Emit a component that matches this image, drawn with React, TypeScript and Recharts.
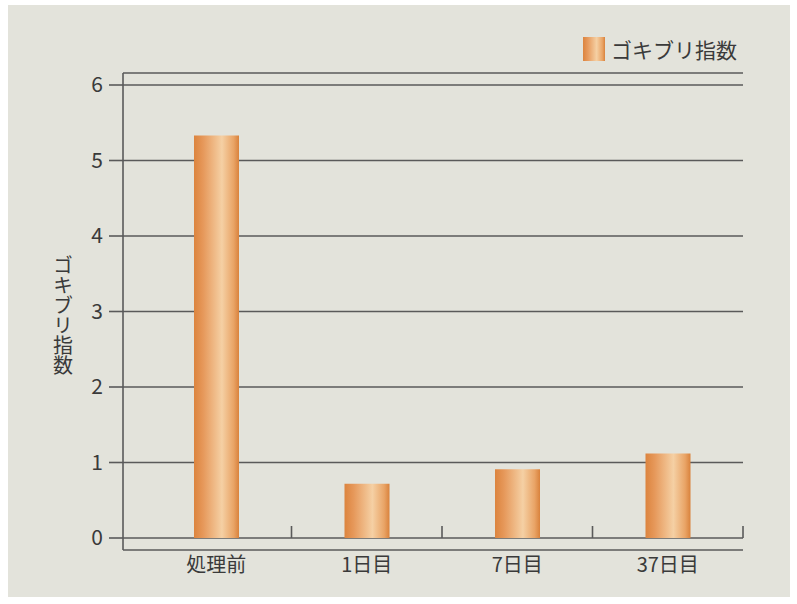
import { BarChart, Bar, XAxis, YAxis, CartesianGrid, Legend } from 'recharts';

// ゴキブリ指数 by timing
const categories = ['処理前', '1日目', '7日目', '37日目'];
const indexValues = [5.33, 0.72, 0.91, 1.12];
const yTicks = [0, 1, 2, 3, 4, 5, 6];
const seriesName = 'ゴキブリ指数';

const FONT = '"Noto Sans CJK JP", "Noto Sans", sans-serif';
const INK = '#3a3a3a';
const LINE = '#5a5a5a';

const W = 797;
const H = 604;
const MARGIN = { top: 73, right: 54, bottom: 24, left: 0 };
const Y_AXIS_W = 123;
const PAD_LEFT = 18;
const X_TICK_MARGIN = 8;
const Y_PAD = 12;
const bandWidth = (W - MARGIN.left - MARGIN.right - Y_AXIS_W - PAD_LEFT) / categories.length;

const data = categories.map((name, i) => ({ name, value: indexValues[i] }));

// upright vertical axis title, one text element
function VerticalLabel({ viewBox }: any) {
  const cx = 63;
  const cy = viewBox.y + viewBox.height / 2 + 4;
  return (
    <text
      x={cx}
      y={cy}
      textAnchor='middle'
      fontSize={20}
      fill={INK}
      fontFamily={FONT}
      style={{ writingMode: 'vertical-rl', textOrientation: 'upright' } as any}
    >
      {seriesName}
    </text>
  );
}

// category label plus the small upward tick on the right edge of each band
function XTick({ x, y, payload }: any) {
  const zeroY = y - X_TICK_MARGIN - Y_PAD;
  const edgeX = x + bandWidth / 2;
  return (
    <g>
      <line x1={edgeX} x2={edgeX} y1={zeroY} y2={zeroY - 12} stroke={LINE} strokeWidth={1.6} />
      <text x={x} y={y} dy='0.71em' textAnchor='middle' fontSize={20} fill={INK} fontFamily={FONT}>
        {payload.value}
      </text>
    </g>
  );
}

function LegendBox() {
  return (
    <div style={{ display: 'flex', alignItems: 'center', fontFamily: FONT, fontSize: 21, color: INK }}>
      <svg width={22} height={24} style={{ marginRight: 6 }}>
        <rect width={22} height={24} fill='url(#barGrad)' />
      </svg>
      <span style={{ lineHeight: '24px' }}>{seriesName}</span>
    </div>
  );
}

export default function App() {
  return (
    <div style={{ position: 'relative', width: W, height: H, background: '#fff' }}>
      <style>{'body{margin:0}'}</style>
      <div
        style={{
          position: 'absolute',
          left: 8,
          top: 5,
          width: 782,
          height: 592,
          background: '#e3e3db',
        }}
      />
      <div style={{ position: 'absolute', left: 0, top: 0 }}>
        <BarChart width={W} height={H} data={data} margin={MARGIN}>
          <defs>
            <linearGradient id='barGrad' x1='0' y1='0' x2='1' y2='0'>
              <stop offset='0%' stopColor='#dc843e' />
              <stop offset='20%' stopColor='#e6985a' />
              <stop offset='62%' stopColor='#f5d0a4' />
              <stop offset='88%' stopColor='#e9a466' />
              <stop offset='100%' stopColor='#d9823c' />
            </linearGradient>
          </defs>
          <CartesianGrid vertical={false} stroke={LINE} strokeWidth={1.6} />
          <XAxis
            dataKey='name'
            padding={{ left: PAD_LEFT, right: 0 }}
            axisLine={false}
            tickLine={false}
            tickSize={0}
            tickMargin={X_TICK_MARGIN}
            height={30}
            interval={0}
            tick={<XTick />}
          />
          <YAxis
            domain={[0, 6]}
            ticks={yTicks}
            interval={0}
            width={Y_AXIS_W}
            padding={{ top: Y_PAD, bottom: Y_PAD }}
            axisLine={{ stroke: LINE, strokeWidth: 1.6 }}
            tickLine={{ stroke: LINE, strokeWidth: 1.6 }}
            tickSize={14}
            tickMargin={6}
            tick={{ fontSize: 21, fill: INK, fontFamily: FONT }}
            label={{ content: VerticalLabel }}
          />
          <Legend
            layout='horizontal'
            verticalAlign='middle'
            align='center'
            wrapperStyle={{ position: 'absolute', top: 37, left: 583, width: 'auto' }}
            content={() => <LegendBox />}
          />
          <Bar dataKey='value' name={seriesName} fill='url(#barGrad)' barSize={45} isAnimationActive={false} />
        </BarChart>
      </div>
    </div>
  );
}
